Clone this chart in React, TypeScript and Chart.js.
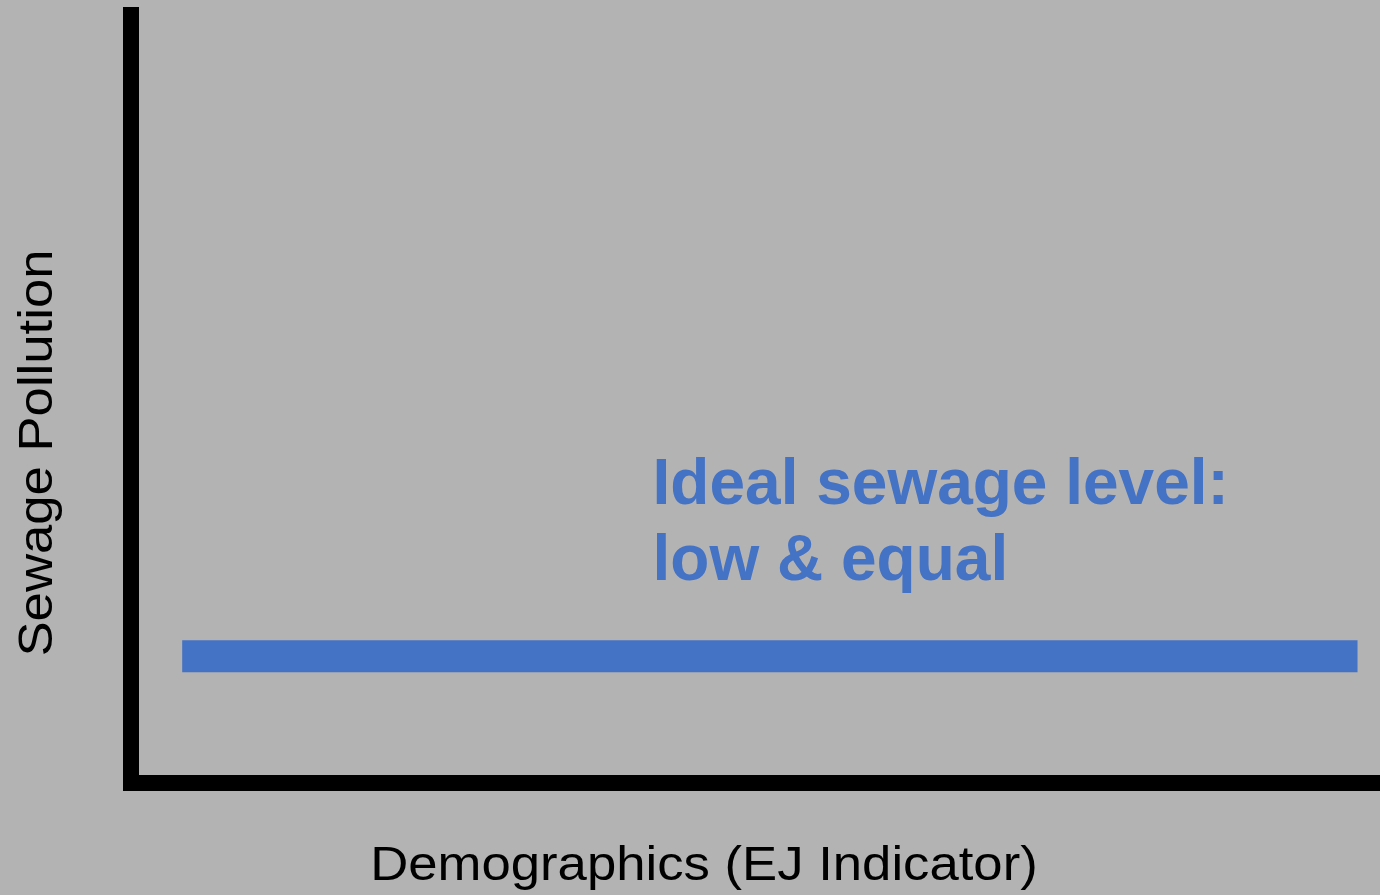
import React, { useEffect, useRef } from "react";
import { Chart, registerables } from "chart.js";

Chart.register(...registerables);

// Data
const demographics: number[] = [4.1, 98.2];
const sewageLevel: number[] = [16.5, 16.5];
const xAxisTitle = "Demographics (EJ Indicator)";
const yAxisTitle = "Sewage Pollution";
const annotationLines: string[] = ["Ideal sewage level:", "low & equal"];

const BG = "#b3b3b3";
const BLUE = "#4472c4";

export default function App() {
  const ref = useRef<HTMLCanvasElement | null>(null);

  useEffect(() => {
    document.body.style.margin = "0";
    document.body.style.background = BG;
    const canvas = ref.current;
    if (!canvas) return;

    const bgPlugin = {
      id: "bg",
      beforeDraw(chart: any) {
        const ctx = chart.ctx;
        ctx.save();
        ctx.fillStyle = BG;
        ctx.fillRect(0, 0, chart.width, chart.height);
        ctx.restore();
      },
    };

    const textPlugin = {
      id: "texts",
      afterDraw(chart: any) {
        const ctx = chart.ctx as CanvasRenderingContext2D;
        const xs = chart.scales.x;
        const ys = chart.scales.y;
        ctx.save();
        // annotation
        ctx.fillStyle = BLUE;
        ctx.font = "bold 64px 'Liberation Sans', Arial, sans-serif";
        ctx.textAlign = "left";
        ctx.textBaseline = "alphabetic";
        const ax = xs.getPixelForValue(42.0) - 3;
        const ay = ys.getPixelForValue(36.3);
        annotationLines.forEach((t, i) => ctx.fillText(t, ax, ay + i * 76));

        // axis titles (glyphs slightly wider than Arial in the original)
        ctx.fillStyle = "#000";
        ctx.font = "49px 'Liberation Sans', Arial, sans-serif";
        ctx.textAlign = "center";
        ctx.save();
        ctx.translate(704, 880);
        ctx.scale(1.075, 1);
        ctx.fillText(xAxisTitle, 0, 0);
        ctx.restore();
        ctx.save();
        ctx.translate(52, 453);
        ctx.rotate(-Math.PI / 2);
        ctx.scale(1.075, 1);
        ctx.fillText(yAxisTitle, 0, 0);
        ctx.restore();
        ctx.restore();
      },
    };

    const chart = new Chart(canvas, {
      type: "line",
      data: {
        datasets: [
          {
            data: demographics.map((x, i) => ({ x, y: sewageLevel[i] })),
            borderColor: BLUE,
            backgroundColor: BLUE,
            borderWidth: 32,
            borderCapStyle: "butt",
            pointRadius: 0,
            fill: false,
          },
        ],
      },
      options: {
        animation: false,
        responsive: false,
        devicePixelRatio: 1,
        layout: { padding: { left: 131, top: 15, right: 0, bottom: 112 } },
        plugins: {
          legend: { display: false },
          tooltip: { enabled: false },
        },
        scales: {
          x: {
            type: "linear",
            min: 0,
            max: 100,
            grid: { display: false, drawTicks: false, lineWidth: 0 },
            ticks: { display: false },
            border: { display: true, color: "#000", width: 16 },
          },
          y: {
            type: "linear",
            min: 0,
            max: 100,
            grid: { display: false, drawTicks: false, lineWidth: 0 },
            ticks: { display: false },
            border: { display: true, color: "#000", width: 16 },
          },
        },
      },
      plugins: [bgPlugin, textPlugin],
    } as any);

    return () => chart.destroy();
  }, []);

  return (
    <div style={{ width: 1380, height: 895, background: BG }}>
      <canvas ref={ref} width={1380} height={895} style={{ display: "block" }} />
    </div>
  );
}
